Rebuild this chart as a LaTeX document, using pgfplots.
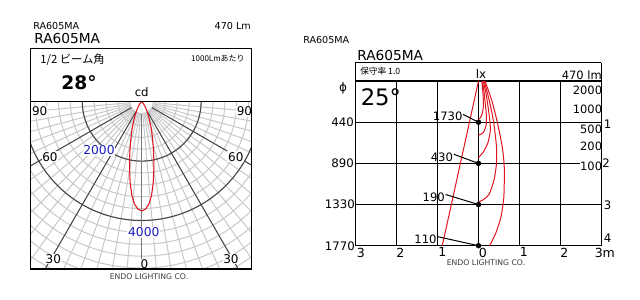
\documentclass[border=0pt]{standalone}
\usepackage{pgfplots}
\pgfplotsset{compat=1.18}
\usepackage{pgfplotstable}
\usepackage{fontspec}
\setmainfont{DejaVu Sans}
\newfontfamily\jp{Noto Sans CJK JP}
\newcommand\fs[1]{\fontsize{#1}{#1}\selectfont}
\tikzset{px/.style={x=0.75pt,y=-0.75pt}}

\definecolor{curvered}{RGB}{225,20,30}
\definecolor{gridlight}{RGB}{200,200,200}
\definecolor{griddark}{RGB}{70,70,70}
\definecolor{gridmid}{RGB}{120,120,120}
\definecolor{cdblue}{RGB}{30,30,190}
\definecolor{logo}{RGB}{60,60,60}

% luminous intensity distribution, cd per 1000 lm
\pgfplotstableread{
phi cd
0 3680
2 3620
4 3460
6 3170
8 2780
10 2350
12 1960
14 1620
16 1340
18 1110
20 920
25 560
30 330
35 190
40 100
50 35
60 12
90 0
}\cdtable

% isolux contours: x offset (m), distance below the lamp (m)
\pgfplotstableread{
x d
0.08 0
0.11 0.3
0.12 0.6
0.09 0.8
0.04 0.9
0 0.93
}\luxA
\pgfplotstableread{
x d
0.10 0
0.15 0.4
0.19 0.8
0.19 1.05
0.12 1.25
0 1.315
}\luxB
\pgfplotstableread{
x d
0.12 0
0.20 0.4
0.27 0.9
0.29 1.2
0.23 1.5
0.12 1.72
0 1.86
}\luxC
\pgfplotstableread{
x d
0.14 0
0.26 0.46
0.37 1
0.44 1.6
0.44 2.0
0.38 2.4
0.26 2.75
0.12 2.88
0 2.94
}\luxD
\pgfplotstableread{
x d
0.16 0
0.32 0.46
0.46 1
0.58 1.6
0.63 2.1
0.62 2.8
0.55 3.3
0.42 3.7
0.27 4
}\luxE

\begin{document}
\begin{tikzpicture}
\begin{scope}[px]
\path (0,0) rectangle (640,300);

%================ polar candela diagram ================
\node[anchor=base west, inner sep=0] at (33,29.3) {\fs{7.2pt}RA605MA};
\node[anchor=base east, inner sep=0] at (251,29.3) {\fs{7.2pt}470 Lm};
\node[anchor=base west, inner sep=0] at (34,43.3) {\fs{10.3pt}RA605MA};
\node[anchor=base west, inner sep=0] at (40,63) {\jp\fs{8.5pt}1/2 ビーム角};
\node[anchor=base east, inner sep=0] at (245,61.5) {\jp\fs{6pt}1000Lmあたり};
\node[anchor=base west, inner sep=0] at (61,89.3) {\fs{14pt}\bfseries 28°};
\node[anchor=base, inner sep=0] at (141.7,96.7) {\fs{8.8pt}cd};

\begin{scope}
  \clip (30.3,101.7) rectangle (251.3,269);
  \foreach \k in {1,...,18}
    \draw[gridlight, line width=0.75pt] (141.7,101.7) circle[radius=\k*11.88];
  \foreach \a in {5,10,15,20,25,35,40,45,50,55,65,70,75,80,85} {
    \draw[gridlight, line width=0.75pt] (141.7,101.7) ++(90+\a:11.88) -- ++(90+\a:260);
    \draw[gridlight, line width=0.75pt] (141.7,101.7) ++(90-\a:11.88) -- ++(90-\a:260);
  }
  \draw[griddark, line width=0.8pt] (141.7,101.7) circle[radius=59.4];
  \draw[griddark, line width=0.8pt] (141.7,101.7) circle[radius=118.8];
  \foreach \a in {30,60} {
    \draw[griddark, line width=0.8pt] (141.7,101.7) ++(90+\a:11.88) -- ++(90+\a:260);
    \draw[griddark, line width=0.8pt] (141.7,101.7) ++(90-\a:11.88) -- ++(90-\a:260);
  }
  \draw[gridmid, line width=0.8pt] (141.7,113.6) -- (141.7,280);
\end{scope}

\begin{scope}[every node/.style={fill=white, inner sep=0.6pt}]
  \node at (39.7,111.3) {\fs{9pt}90};
  \node at (244.5,111.3) {\fs{9pt}90};
  \node at (50,156.7) {\fs{9pt}60};
  \node at (235.8,156.7) {\fs{9pt}60};
  \node at (53.3,259) {\fs{9pt}30};
  \node at (231,259) {\fs{9pt}30};
  \node at (144.5,264) {\fs{9pt}0};
  \node[text=cdblue] at (99,150.5) {\fs{9.2pt}2000};
  \node[text=cdblue] at (143.8,232.5) {\fs{9.2pt}4000};
\end{scope}
\end{scope}

\begin{axis}[at={(22.725pt,-201.75pt)}, anchor=south west, scale only axis,
  width=165.75pt, height=125.5pt,
  xmin=-3751, xmax=3690, ymin=-5633, ymax=0, hide axis]
  \addplot[curvered, line width=0.8pt, data cs=polar]
    table[x expr=-90+\thisrow{phi}, y=cd] {\cdtable};
  \addplot[curvered, line width=0.8pt, data cs=polar]
    table[x expr=-90-\thisrow{phi}, y=cd] {\cdtable};
\end{axis}

\begin{scope}[px]
\draw[black, line width=1pt] (30.3,48.3) rectangle (251.3,269);
\draw[black, line width=1pt] (30.3,101.7) -- (251.3,101.7);
\node[text=logo, inner sep=0] at (149,277) {\fs{5.8pt}ENDO LIGHTING CO.};

%================ isolux diagram ================
\node[anchor=base west, inner sep=0] at (303,43.3) {\fs{7.2pt}RA605MA};
\node[anchor=base west, inner sep=0] at (357,60) {\fs{10.3pt}RA605MA};
\node[anchor=west, inner sep=0] at (360,71.5) {\jp\fs{6.5pt}保守率 1.0};
\node[anchor=base, inner sep=0] at (481,78.3) {\fs{9pt}lx};
\node[anchor=base east, inner sep=0] at (602,79) {\fs{8.6pt}470 lm};
\end{scope}

\begin{axis}[at={(266.775pt,-184.275pt)}, anchor=south west, scale only axis,
  width=184.2pt, height=123.5pt,
  xmin=-3, xmax=3, ymin=0, ymax=4, y dir=reverse,
  xtick={-3,...,3}, ytick={0,...,4}, xticklabels={}, yticklabels={},
  tick style={draw=none}, grid=major,
  major grid style={black, line width=0.75pt},
  axis line style={black, line width=0.9pt}, clip=false]
  \addplot[curvered, line width=0.75pt] coordinates {(0,0) (-0.885,4)};
  \addplot[curvered, line width=0.75pt, smooth, tension=0.4] table[x=x, y=d] {\luxA};
  \addplot[curvered, line width=0.75pt, smooth, tension=0.4] table[x=x, y=d] {\luxB};
  \addplot[curvered, line width=0.75pt, smooth, tension=0.4] table[x=x, y=d] {\luxC};
  \addplot[curvered, line width=0.75pt, smooth, tension=0.4] table[x=x, y=d] {\luxD};
  \addplot[curvered, line width=0.75pt, smooth, tension=0.4] table[x=x, y=d] {\luxE};
  \draw[black, line width=0.75pt] (axis cs:-0.376,0.812) -- (axis cs:0,1);
  \draw[black, line width=0.75pt] (axis cs:-0.602,1.78) -- (axis cs:0,2);
  \draw[black, line width=0.75pt] (axis cs:-0.805,2.756) -- (axis cs:0,3);
  \draw[black, line width=0.75pt] (axis cs:-1.0,3.78) -- (axis cs:0,4);
  \addplot[only marks, mark=*, mark size=1.8pt, black] coordinates {(0,1) (0,2) (0,3) (0,4)};
  \node[anchor=east, inner sep=0.5pt] at (axis cs:-0.37,0.855) {\fs{8.7pt}1730};
  \node[anchor=east, inner sep=0.5pt] at (axis cs:-0.60,1.85) {\fs{8.7pt}430};
  \node[anchor=east, inner sep=0.5pt] at (axis cs:-0.80,2.83) {\fs{8.7pt}190};
  \node[anchor=east, inner sep=0.5pt] at (axis cs:-1.0,3.84) {\fs{8.7pt}110};
\end{axis}

\begin{scope}[px]
% illuminance levels of the contours
\begin{scope}[every node/.style={anchor=east, fill=white, inner sep=0.5pt}]
  \node at (603,90) {\fs{8.6pt}2000};
  \node at (603,109) {\fs{8.6pt}1000};
  \node at (603,129) {\fs{8.6pt}500};
  \node at (603,146.5) {\fs{8.6pt}200};
  \node at (603,166.7) {\fs{8.6pt}100};
\end{scope}
\draw[black, line width=0.9pt] (601.3,62.7) -- (601.3,245.7);
\draw[black, line width=0.9pt] (355.7,81) -- (355.7,62.7) -- (601.3,62.7);

\node[anchor=north west, inner sep=0] at (360.5,88.5) {\fs{17pt}25°};
\node[inner sep=0] at (343,88) {\fs{9pt}ϕ};

% beam diameters (mm) at 1-4 m
\begin{scope}[every node/.style={anchor=east, inner sep=0}]
  \node at (354,122.3) {\fs{8.8pt}440};
  \node at (354,163.3) {\fs{8.8pt}890};
  \node at (355,204.3) {\fs{8.8pt}1330};
  \node at (355,246) {\fs{8.8pt}1770};
\end{scope}
\begin{scope}[every node/.style={anchor=west, inner sep=0}]
  \node at (603.5,124) {\fs{8.8pt}1};
  \node at (602,163.5) {\fs{8.8pt}2};
  \node at (603.5,205.5) {\fs{8.8pt}3};
  \node at (603.5,238) {\fs{8.8pt}4};
\end{scope}
\begin{scope}[every node/.style={anchor=north west, inner sep=0}]
  \node at (356.5,247.5) {\fs{9.4pt}3};
  \node at (396,247.5) {\fs{9.4pt}2};
  \node at (438,247.5) {\fs{9.4pt}1};
  \node at (478.7,247.5) {\fs{9.4pt}0};
  \node at (519.5,247.5) {\fs{9.4pt}1};
  \node at (560,247.5) {\fs{9.4pt}2};
  \node at (594.5,247.5) {\fs{9.4pt}3m};
\end{scope}
\node[text=logo, inner sep=0] at (486,263) {\fs{5.8pt}ENDO LIGHTING CO.};
\end{scope}
\end{tikzpicture}
\end{document}
